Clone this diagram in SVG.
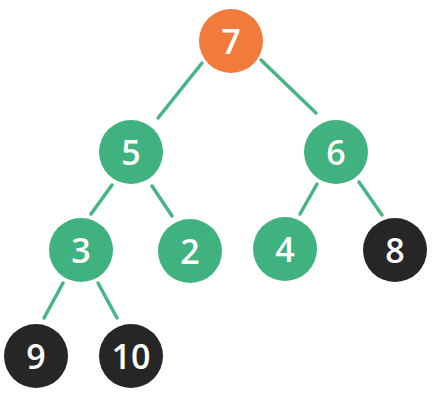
<svg xmlns="http://www.w3.org/2000/svg" width="434" height="419" viewBox="0 0 434 419">
<style>
.e{stroke:#46b583;stroke-width:3.5;stroke-linecap:round;fill:none}
.g{fill:#40b27f}
.o{fill:#f07b3b}
.k{fill:#262626}
text{fill:#fff;font-family:"Open Sans","DejaVu Sans",sans-serif;font-size:34px;font-weight:600;text-anchor:middle;dominant-baseline:central}
</style>
<rect width="434" height="419" fill="#fff"/>
<g id="edges">
<line class="e" x1="202" y1="63" x2="158" y2="118"/>
<line class="e" x1="261" y1="60" x2="316" y2="113"/>
<line class="e" x1="112" y1="185" x2="91" y2="214"/>
<line class="e" x1="152" y1="186" x2="172" y2="216"/>
<line class="e" x1="317" y1="184" x2="300" y2="214"/>
<line class="e" x1="359" y1="182" x2="382" y2="215"/>
<line class="e" x1="63" y1="283" x2="44" y2="318"/>
<line class="e" x1="98" y1="283" x2="117" y2="318"/>
</g>
<g id="n7"><circle class="o" cx="231" cy="41" r="32"/><text x="231" y="41">7</text></g>
<g id="n5"><circle class="g" cx="131" cy="152" r="32"/><text x="131" y="152">5</text></g>
<g id="n6"><circle class="g" cx="336" cy="152" r="32"/><text x="336" y="152">6</text></g>
<g id="n3"><circle class="g" cx="81" cy="250" r="32"/><text x="81" y="250">3</text></g>
<g id="n2"><circle class="g" cx="190" cy="251" r="32"/><text x="190" y="251">2</text></g>
<g id="n4"><circle class="g" cx="285" cy="249" r="32"/><text x="285" y="249">4</text></g>
<g id="n8"><circle class="k" cx="395" cy="250" r="32"/><text x="395" y="250">8</text></g>
<g id="n9"><circle class="k" cx="36" cy="356" r="32"/><text x="36" y="356">9</text></g>
<g id="n10"><circle class="k" cx="131" cy="356" r="32"/><text x="131" y="356">10</text></g>
</svg>
